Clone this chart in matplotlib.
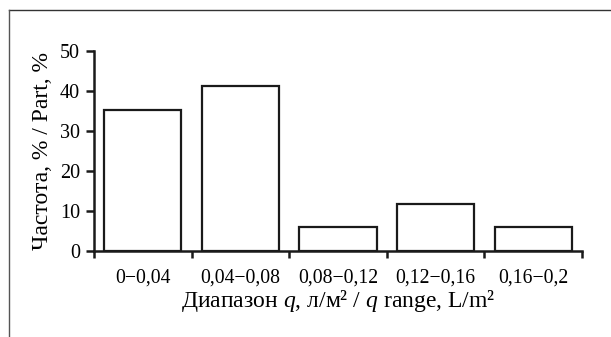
import matplotlib
matplotlib.use('Agg')
import matplotlib.pyplot as plt
from matplotlib.lines import Line2D

# data: share of samples per q range (17 samples)
categories = ['0\u22120,04', '0,04\u22120,08', '0,08\u22120,12', '0,12\u22120,16', '0,16\u22120,2']
values = [35.3, 41.2, 5.9, 11.8, 5.9]
yticks = [0, 10, 20, 30, 40, 50]

plt.rcParams['font.family'] = ['Liberation Serif', 'DejaVu Serif']
plt.rcParams['mathtext.fontset'] = 'custom'
plt.rcParams['mathtext.rm'] = 'Liberation Serif'
plt.rcParams['mathtext.it'] = 'Liberation Serif:italic'

W, H = 611, 337
fig = plt.figure(figsize=(W / 100, H / 100), dpi=100)
ax = fig.add_axes([94 / W, 1 - 251 / H, (582 - 94) / W, (251 - 50.7) / H])

x = list(range(len(categories)))
ax.bar(x, values, width=0.79, color='white', edgecolor='#1a1a1a', linewidth=1.6)

ax.set_xlim(-0.5, len(categories) - 0.5)
ax.set_ylim(0, 50)
ax.set_yticks(yticks)
ax.set_yticklabels([str(v) for v in yticks], fontsize=14.5)

# major ticks at the boundaries, labels on minor ticks at the centers
ax.set_xticks([i - 0.5 for i in range(len(categories) + 1)])
ax.set_xticklabels([])
ax.set_xticks(x, minor=True)
ax.set_xticklabels(categories, minor=True, fontsize=14.2)
ax.tick_params(axis='x', which='major', direction='out', length=5, width=1.8, color='#1a1a1a')
ax.tick_params(axis='x', which='minor', length=0, pad=12.5)
ax.tick_params(axis='y', direction='out', length=6, width=1.8, color='#1a1a1a', pad=4)

for s in ['top', 'right']:
    ax.spines[s].set_visible(False)
for s in ['left', 'bottom']:
    ax.spines[s].set_linewidth(1.8)
    ax.spines[s].set_color('#1a1a1a')

ax.set_ylabel('Частота, % / Part, %', fontsize=17, labelpad=5)
ax.set_xlabel('Диапазон $q$, л/м\u00b2 / $q$ range, L/m\u00b2', fontsize=17, labelpad=0.5)

# outer frame (top and left only)
fig.add_artist(Line2D([9 / W, 1], [1 - 10 / H, 1 - 10 / H], color='#333333', linewidth=1.0))
fig.add_artist(Line2D([9 / W, 9 / W], [0, 1 - 10 / H], color='#555555', linewidth=1.0))

fig.savefig('out.png', dpi=100)
